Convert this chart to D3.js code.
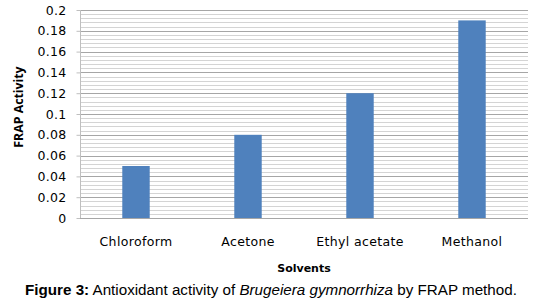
<!DOCTYPE html>
<html><head><meta charset="utf-8">
<script src="https://cdn.jsdelivr.net/npm/d3@7"></script>
<style>body{margin:0;background:#fff}svg{display:block}</style>
</head><body>
<svg id="c" width="537" height="303"></svg>
<script>
const categories = ["Chloroform", "Acetone", "Ethyl acetate", "Methanol"];
const values = [0.05, 0.08, 0.12, 0.19];
const yTicks = [0, 0.02, 0.04, 0.06, 0.08, 0.1, 0.12, 0.14, 0.16, 0.18, 0.2];
const yTickLabels = ["0", "0.02", "0.04", "0.06", "0.08", "0.1", "0.12", "0.14", "0.16", "0.18", "0.2"];

const svg = d3.select("#c");
const m = {l: 80, r: 528, t: 10, b: 218};
const x = d3.scaleBand().domain(categories).range([m.l, m.r]).paddingInner(0.755).paddingOuter(0.3775);
const y = d3.scaleLinear().domain([0, 0.2]).range([m.b, m.t]);
const font = "DejaVu Sans";

// minor gridlines
const minor = d3.range(0, 201, 4).map(v => v / 1000);
svg.append("g").selectAll("line").data(minor).join("line")
  .attr("x1", m.l).attr("x2", m.r)
  .attr("y1", d => Math.round(y(d)) + 0.5).attr("y2", d => Math.round(y(d)) + 0.5)
  .attr("stroke", "#d4d4d4").attr("stroke-width", 1);
// major gridlines
svg.append("g").selectAll("line").data(yTicks.slice(1)).join("line")
  .attr("x1", m.l).attr("x2", m.r)
  .attr("y1", d => Math.round(y(d)) + 0.5).attr("y2", d => Math.round(y(d)) + 0.5)
  .attr("stroke", "#a6a6a6").attr("stroke-width", 1);

// y axis
const yAxis = d3.axisLeft(y).tickValues(yTicks).tickFormat((d, i) => yTickLabels[i]).tickSize(4).tickPadding(10);
const ga = svg.append("g").attr("transform", `translate(${m.l + 0.5},0)`).call(yAxis);
ga.select(".domain").attr("stroke", "#bfbfbf").attr("d", `M0,${m.t}V${m.b}`);
ga.selectAll(".tick line").attr("stroke", "#bfbfbf");
ga.selectAll(".tick text").attr("font-family", font).attr("font-size", 12.5).attr("letter-spacing", 0.3).attr("fill", "#000");

// bars
svg.append("g").selectAll("rect").data(values).join("rect")
  .attr("x", (d, i) => x(categories[i]))
  .attr("width", x.bandwidth())
  .attr("y", d => y(d))
  .attr("height", d => y(0) - y(d))
  .attr("fill", "#4f81bd");

// x axis baseline
svg.append("line").attr("x1", m.l).attr("x2", m.r).attr("y1", m.b + 0.5).attr("y2", m.b + 0.5).attr("stroke", "#a6a6a6");

// category labels
svg.append("g").selectAll("text").data(categories).join("text")
  .attr("x", d => x(d) + x.bandwidth() / 2).attr("y", 246)
  .attr("text-anchor", "middle").attr("font-family", font).attr("font-size", 12.5).attr("letter-spacing", 0.35).attr("fill", "#000")
  .text(d => d);

// axis titles
svg.append("text").attr("x", (m.l + m.r) / 2).attr("y", 272).attr("text-anchor", "middle")
  .attr("font-family", font).attr("font-weight", "bold").attr("font-size", 11).text("Solvents");
svg.append("text").attr("transform", `translate(23,107) rotate(-90)`).attr("text-anchor", "middle")
  .attr("font-family", "Open Sans").attr("font-weight", "bold").attr("font-size", 12.3).text("FRAP Activity");

// caption
const cap = svg.append("text").attr("x", 25).attr("y", 295)
  .attr("font-family", "Liberation Sans, Arial, sans-serif").attr("font-size", 15.2).attr("fill", "#000");
cap.append("tspan").attr("font-weight", "bold").text("Figure 3:");
cap.append("tspan").text(" Antioxidant activity of ");
cap.append("tspan").attr("font-style", "italic").text("Brugeiera gymnorrhiza");
cap.append("tspan").text(" by FRAP method.");
</script>
</body></html>
